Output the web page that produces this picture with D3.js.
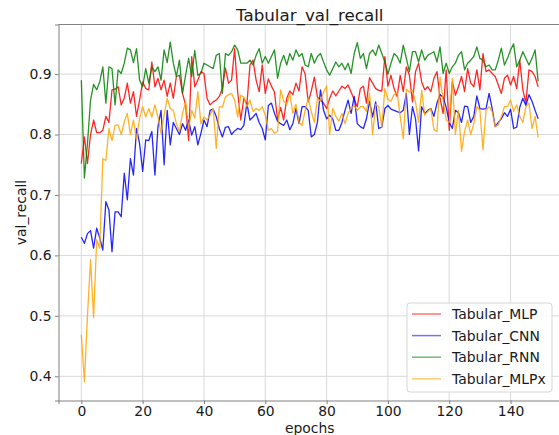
<!DOCTYPE html>
<html>
<head>
<meta charset="utf-8">
<script src="https://cdn.jsdelivr.net/npm/d3@7"></script>
<style>
  body { margin: 0; background: #fff; }
  svg { font-family: "DejaVu Sans", sans-serif; display: block; }
</style>
</head>
<body>
<script>
// epochs 0..149
var epochs = d3.range(150);

var seriesNames = ["Tabular_MLP", "Tabular_CNN", "Tabular_RNN", "Tabular_MLPx"];
var seriesColors = ["#ff0000", "#0000ff", "#008000", "#ffa500"];

var mlp = [
  0.752, 0.796, 0.752, 0.800, 0.824, 0.803, 0.803, 0.807, 0.830, 0.820, 0.874, 0.875, 0.879,
  0.849, 0.860, 0.885, 0.852, 0.871, 0.830, 0.857, 0.887, 0.876, 0.874, 0.920, 0.879, 0.893,
  0.874, 0.890, 0.863, 0.885, 0.860, 0.896, 0.898, 0.868, 0.849, 0.790, 0.929, 0.879, 0.890,
  0.904, 0.901, 0.860, 0.849, 0.854, 0.857,
  0.863, 0.876, 0.910, 0.885, 0.890, 0.942, 0.870, 0.824, 0.860, 0.850, 0.915, 0.923, 0.890,
  0.871, 0.915, 0.868, 0.892, 0.880, 0.870, 0.824, 0.845, 0.824, 0.860, 0.872, 0.866, 0.885,
  0.872, 0.912, 0.900, 0.854, 0.872, 0.895, 0.862, 0.857, 0.852, 0.843, 0.860, 0.872, 0.864,
  0.872, 0.880, 0.876, 0.882, 0.870, 0.858, 0.846, 0.876, 0.880, 0.852, 0.894, 0.885, 0.876,
  0.873, 0.872, 0.929, 0.880,
  0.898, 0.876, 0.863, 0.898, 0.871, 0.912, 0.898, 0.854, 0.904, 0.918, 0.887, 0.874, 0.879,
  0.871, 0.893, 0.904, 0.860, 0.835, 0.907, 0.807, 0.887, 0.865, 0.879, 0.896, 0.871, 0.909,
  0.885, 0.879, 0.907, 0.874, 0.934, 0.904, 0.907, 0.901, 0.896, 0.882, 0.868, 0.893, 0.898,
  0.882, 0.896, 0.876, 0.923, 0.874, 0.852, 0.907, 0.904, 0.896, 0.879
];

var cnn = [
  0.630, 0.620, 0.636, 0.641, 0.612, 0.645, 0.629, 0.609, 0.689, 0.675, 0.606, 0.672, 0.672,
  0.664, 0.736, 0.692, 0.760, 0.733, 0.810, 0.785, 0.739, 0.791, 0.790, 0.805, 0.733, 0.813,
  0.840, 0.750, 0.840, 0.783, 0.820, 0.810, 0.800, 0.818, 0.807, 0.824, 0.799, 0.813, 0.783,
  0.802, 0.824, 0.813, 0.840, 0.842, 0.830,
  0.810, 0.796, 0.812, 0.813, 0.800, 0.806, 0.810, 0.808, 0.815, 0.852, 0.824, 0.829, 0.835,
  0.820, 0.810, 0.791, 0.848, 0.852, 0.835, 0.822, 0.818, 0.815, 0.824, 0.808, 0.818, 0.843,
  0.818, 0.846, 0.846, 0.840, 0.796, 0.800, 0.820, 0.874, 0.840, 0.826, 0.832, 0.826, 0.807,
  0.807, 0.820, 0.840, 0.857, 0.835, 0.863, 0.818, 0.813, 0.810, 0.826, 0.855, 0.829, 0.854,
  0.810, 0.812, 0.843, 0.848,
  0.842, 0.840, 0.838, 0.836, 0.840, 0.868, 0.800, 0.846, 0.826, 0.773, 0.846, 0.835, 0.840,
  0.843, 0.830, 0.852, 0.866, 0.862, 0.845, 0.820, 0.810, 0.840, 0.836, 0.820, 0.847, 0.846,
  0.820, 0.830, 0.864, 0.843, 0.842, 0.843, 0.868, 0.843, 0.813, 0.820, 0.826, 0.836, 0.830,
  0.842, 0.810, 0.812, 0.845, 0.860, 0.848, 0.866, 0.855, 0.840, 0.826
];

var rnn = [
  0.890, 0.728, 0.785, 0.857, 0.883, 0.874, 0.887, 0.912, 0.852, 0.912, 0.909, 0.849, 0.907,
  0.901, 0.918, 0.943, 0.940, 0.919, 0.942, 0.890, 0.879, 0.909, 0.885, 0.912, 0.904, 0.912,
  0.890, 0.940, 0.919, 0.953, 0.918, 0.896, 0.923, 0.868, 0.898, 0.926, 0.896, 0.939, 0.898,
  0.901, 0.918, 0.915, 0.912, 0.909, 0.931, 0.934, 0.868, 0.934, 0.931,
  0.937, 0.948, 0.940, 0.918, 0.918, 0.918, 0.923, 0.915, 0.931, 0.942, 0.918, 0.929, 0.918,
  0.929, 0.940, 0.893, 0.918, 0.931, 0.915, 0.934, 0.923, 0.940, 0.929, 0.934, 0.915, 0.912,
  0.934, 0.918, 0.929, 0.934, 0.920, 0.907, 0.898, 0.909, 0.920, 0.912, 0.918, 0.907, 0.918,
  0.901, 0.934, 0.952, 0.926, 0.934, 0.909, 0.934, 0.940, 0.931, 0.948, 0.934, 0.920, 0.900,
  0.918, 0.934, 0.929, 0.918, 0.948, 0.926, 0.904, 0.937, 0.937, 0.920, 0.940, 0.923, 0.931,
  0.934, 0.937, 0.920, 0.945, 0.901, 0.918, 0.901, 0.912, 0.918, 0.931, 0.937, 0.907, 0.918,
  0.923, 0.929, 0.945, 0.926, 0.923, 0.912, 0.915, 0.907, 0.907, 0.923, 0.943, 0.915, 0.926,
  0.940, 0.950, 0.912, 0.923, 0.937, 0.926, 0.915, 0.926, 0.940, 0.888
];

var mlpx = [
  0.469, 0.391, 0.500, 0.593, 0.497, 0.626, 0.612, 0.760, 0.757, 0.810, 0.790, 0.815, 0.816,
  0.800, 0.821, 0.835, 0.800, 0.824, 0.791, 0.827, 0.846, 0.829, 0.843, 0.829, 0.849, 0.829,
  0.802, 0.832, 0.860, 0.843, 0.840, 0.818, 0.805, 0.835, 0.854, 0.810, 0.840, 0.827, 0.871,
  0.818, 0.829, 0.824, 0.832, 0.843, 0.777, 0.846, 0.845, 0.862, 0.866,
  0.868, 0.857, 0.829, 0.865, 0.862, 0.846, 0.857, 0.838, 0.843, 0.840, 0.846, 0.832, 0.807,
  0.810, 0.802, 0.805, 0.874, 0.855, 0.850, 0.868, 0.835, 0.850, 0.820, 0.815, 0.840, 0.860,
  0.838, 0.820, 0.860, 0.855, 0.870, 0.880, 0.800, 0.843, 0.830, 0.822, 0.835, 0.818, 0.835,
  0.843, 0.848, 0.840, 0.846, 0.846, 0.838, 0.868, 0.800, 0.850, 0.846, 0.812, 0.876, 0.858,
  0.855, 0.866, 0.870, 0.830, 0.793, 0.875, 0.870, 0.873, 0.854, 0.820, 0.873, 0.832, 0.838,
  0.843, 0.808, 0.805, 0.895, 0.857, 0.824, 0.820, 0.893, 0.800, 0.840, 0.772, 0.805, 0.824,
  0.800, 0.818, 0.846, 0.840, 0.775, 0.840, 0.846, 0.838, 0.813, 0.816, 0.830, 0.846, 0.846,
  0.857, 0.838, 0.849, 0.830, 0.820, 0.846, 0.852, 0.810, 0.830, 0.795
];

var xTicks = [0, 20, 40, 60, 80, 100, 120, 140];
var yTicks = [0.4, 0.5, 0.6, 0.7, 0.8, 0.9];

var allSeries = [mlp, cnn, rnn, mlpx];

var width  = 559;
var height = 435;

var svg = d3.select("body")
            .append("svg")
            .attr("width", width)
            .attr("height", height);

var margin = {top: 24.5, right: -2, bottom: 34.5, left: 58.5};
var plotW  = width - margin.left - margin.right;
var plotH  = height - margin.top - margin.bottom;

var x = d3.scaleLinear().domain([-7.45, 156.45]).range([0, plotW]);
var y = d3.scaleLinear().domain([0.36, 0.982]).range([plotH, 0]);

var g = svg.append("g")
           .attr("transform", "translate(" + margin.left + "," + margin.top + ")");

// grid
g.append("g")
 .selectAll("line")
 .data(xTicks)
 .enter().append("line")
         .attr("x1", function(d) { return x(d); })
         .attr("x2", function(d) { return x(d); })
         .attr("y1", 0)
         .attr("y2", plotH)
         .attr("stroke", "#d9d9d9")
         .attr("stroke-width", 1);

g.append("g")
 .selectAll("line")
 .data(yTicks)
 .enter().append("line")
         .attr("x1", 0)
         .attr("x2", plotW)
         .attr("y1", function(d) { return y(d); })
         .attr("y2", function(d) { return y(d); })
         .attr("stroke", "#d9d9d9")
         .attr("stroke-width", 1);

// axes
var xAxis = g.append("g")
             .attr("transform", "translate(0," + plotH + ")")
             .call(d3.axisBottom(x).tickValues(xTicks).tickSize(3.5).tickPadding(2).tickFormat(d3.format("d")));

var yAxis = g.append("g")
             .call(d3.axisLeft(y).tickValues(yTicks).tickSize(3.5).tickPadding(3.5).tickFormat(d3.format(".1f")));

[xAxis, yAxis].forEach(function(a) {
  a.select(".domain").attr("stroke", "#808080").attr("stroke-width", 1);
  a.selectAll(".tick line").attr("stroke", "#808080");
  a.selectAll(".tick text")
   .attr("fill", "#1a1a1a")
   .style("font-family", "DejaVu Sans")
   .style("font-size", "13.9px");
});

// top frame
g.append("line")
 .attr("x1", 0).attr("x2", plotW)
 .attr("y1", 0).attr("y2", 0)
 .attr("stroke", "#808080");

// lines
var line = d3.line()
             .x(function(d, i) { return x(epochs[i]); })
             .y(function(d) { return y(d); });

g.selectAll(".series")
 .data(allSeries)
 .enter().append("path")
         .attr("class", "series")
         .attr("d", line)
         .attr("fill", "none")
         .attr("stroke", function(d, i) { return seriesColors[i]; })
         .attr("stroke-opacity", 0.85)
         .attr("stroke-width", 1.3)
         .attr("stroke-linejoin", "round");

// title and labels
svg.append("text")
   .attr("x", margin.left + plotW / 2)
   .attr("y", 20.5)
   .style("text-anchor", "middle")
   .style("font-size", "16.7px")
   .attr("fill", "#1a1a1a")
   .text("Tabular_val_recall");

svg.append("text")
   .attr("x", margin.left + plotW / 2)
   .attr("y", 432.5)
   .style("text-anchor", "middle")
   .style("font-size", "13.9px")
   .attr("fill", "#1a1a1a")
   .text("epochs");

svg.append("text")
   .attr("transform", "rotate(-90)")
   .attr("x", -(margin.top + plotH / 2))
   .attr("y", 26)
   .style("text-anchor", "middle")
   .style("font-size", "13.9px")
   .attr("fill", "#1a1a1a")
   .text("val_recall");

// legend
var legend = svg.append("g").attr("transform", "translate(407,303)");

legend.append("rect")
      .attr("width", 145)
      .attr("height", 89)
      .attr("rx", 3)
      .attr("fill", "#ffffff")
      .attr("fill-opacity", 0.8)
      .attr("stroke", "#d6d6d6");

var item = legend.selectAll(".item")
                 .data(seriesNames)
                 .enter().append("g")
                         .attr("class", "item")
                         .attr("transform", function(d, i) { return "translate(0," + (11 + i * 21.6) + ")"; });

item.append("line")
    .attr("x1", 5).attr("x2", 34)
    .attr("y1", 0).attr("y2", 0)
    .attr("stroke", function(d, i) { return seriesColors[i]; })
    .attr("stroke-opacity", 0.55)
    .attr("stroke-width", 1.5);

item.append("text")
    .attr("x", 45)
    .attr("y", 5)
    .style("font-size", "13.9px")
    .attr("fill", "#1a1a1a")
    .text(function(d) { return d; });
</script>
</body>
</html>
